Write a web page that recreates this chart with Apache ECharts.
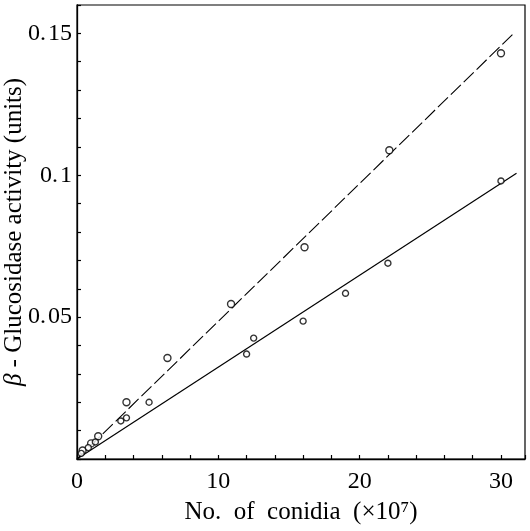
<!DOCTYPE html>
<html><head><meta charset="utf-8">
<script src="https://cdn.jsdelivr.net/npm/echarts@6/dist/echarts.min.js"></script>
<style>html,body{margin:0;padding:0;background:#fff}#c{width:530px;height:531px}</style>
</head><body><div id="c"></div>
<script>
// Data
const upperPoints = [[0.4,0.003],[1.0,0.0055],[1.5,0.008],[3.5,0.020],[6.4,0.0356],[10.9,0.0546],[16.1,0.0746],[22.1,0.1088],[30.0,0.143]];
const lowerPoints = [[0.3,0.002],[0.8,0.004],[1.3,0.006],[3.1,0.0134],[3.5,0.0145],[5.1,0.020],[12.0,0.037],[12.5,0.0426],[16.0,0.0486],[19.0,0.0584],[22.0,0.069],[30.0,0.098]];
const upperLine = [[0,0],[30.9,0.150]];
const lowerLine = [[0,0],[31.1,0.1007]];
const xTickLabels = ['0','10','20','30'];
const yTickLabels = {5:'0.\u200A05',10:'0.\u200A1',15:'0.\u200A15'};

const serif = '"Liberation Serif","DejaVu Serif",serif';
const chart = echarts.init(document.getElementById('c'), null, {renderer:'canvas'});
chart.setOption({
  animation:false,
  backgroundColor:'#fff',
  grid:{left:77,right:5,top:5,bottom:72,containLabel:false,outerBoundsMode:'none',show:true,borderColor:'#000',borderWidth:1.2,backgroundColor:'transparent'},
  xAxis:{
    type:'value',min:0,max:31.7,interval:2,
    axisLine:{show:true,lineStyle:{color:'#000',width:1.3}},
    axisTick:{show:true,inside:true,length:4,lineStyle:{color:'#000',width:1.2}},
    splitLine:{show:false},
    axisLabel:{margin:11,color:'#000',fontFamily:serif,fontSize:24,hideOverlap:false,
      formatter:function(v){const r=Math.round(v);if(Math.abs(v-r)<1e-6&&r%10===0){return xTickLabels[r/10]||'';}return '';}},
    name:'No.  of  conidia  (×10⁷)',nameLocation:'middle',nameGap:41,nameMoveOverlap:false,
    nameTextStyle:{color:'#000',fontFamily:serif,fontSize:25}
  },
  yAxis:{
    type:'value',min:0,max:0.16,interval:0.01,
    axisLine:{show:true,lineStyle:{color:'#000',width:1.3}},
    axisTick:{show:true,inside:true,length:4,lineStyle:{color:'#000',width:1.2}},
    splitLine:{show:false},
    axisLabel:{margin:5,color:'#000',fontFamily:serif,fontSize:24,hideOverlap:false,
      formatter:function(v){const k=Math.round(v*100);return yTickLabels[k]||'';}},
    name:'{b|β} - Glucosidase activity (units)',nameLocation:'middle',nameGap:50,nameMoveOverlap:false,
    nameTextStyle:{color:'#000',fontFamily:serif,fontSize:25,rich:{b:{fontFamily:serif,fontStyle:'italic',fontSize:25,color:'#000'}}}
  },
  series:[
    {type:'line',data:upperLine,symbol:'none',lineStyle:{color:'#000',width:1.1,type:[14,4]},z:1},
    {type:'line',data:lowerLine,symbol:'none',lineStyle:{color:'#000',width:1.2},z:1},
    {type:'scatter',data:upperPoints,symbol:'circle',symbolSize:7,itemStyle:{color:'#fff',borderColor:'#000',borderWidth:1.4},z:3},
    {type:'scatter',data:lowerPoints,symbol:'circle',symbolSize:6,itemStyle:{color:'#fff',borderColor:'#000',borderWidth:1.4},z:3}
  ]
});
</script></body></html>
